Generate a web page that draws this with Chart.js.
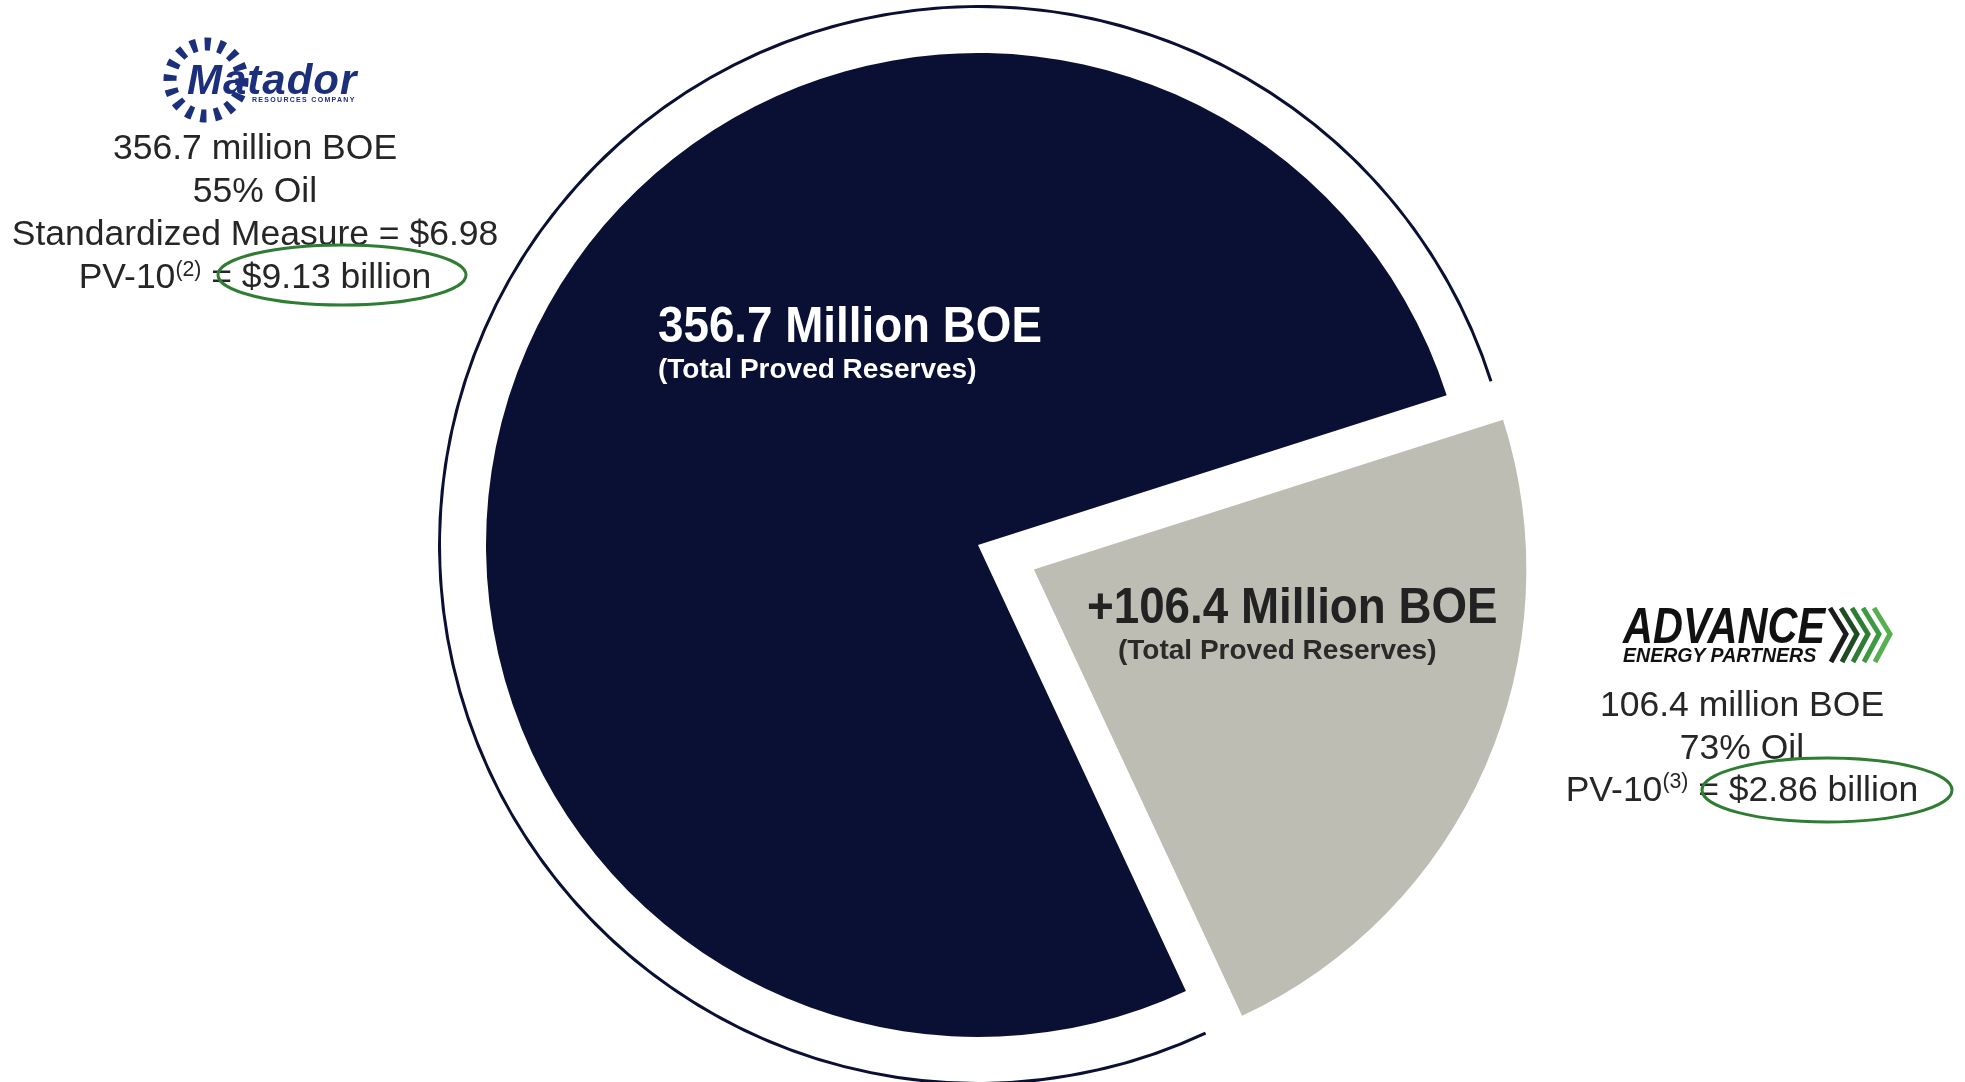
<!DOCTYPE html>
<html>
<head>
<meta charset="utf-8">
<script src="https://cdn.jsdelivr.net/npm/chart.js@4.4.1/dist/chart.umd.min.js"></script>
<style>
  html, body { margin: 0; padding: 0; background: #fff; }
  #wrap {
    position: relative;
    width: 1965px;
    height: 1082px;
    overflow: hidden;
    font-family: "Liberation Sans", Arial, sans-serif;
  }
  #pie { position: absolute; left: 0; top: 0; }
  .lbl { position: absolute; white-space: nowrap; line-height: 1; }
  .sup { font-size: 0.6em; position: relative; top: -0.6em; }
  #marks { position: absolute; left: 0; top: 0; }
</style>
</head>
<body>
<div id="wrap">
  <canvas id="pie" width="1965" height="1082"></canvas>
  <div id="labels"></div>
  <svg id="marks" width="1965" height="1082" viewBox="0 0 1965 1082">
    <circle cx="206" cy="80" r="36" fill="none" stroke="#1c2f7a" stroke-width="13" stroke-dasharray="6 8"></circle>
    <ellipse cx="342" cy="275" rx="124" ry="30" fill="none" stroke="#2e7d32" stroke-width="3"></ellipse>
    <ellipse cx="1827" cy="790" rx="125" ry="32" fill="none" stroke="#2e7d32" stroke-width="3"></ellipse>
    <g fill="none" stroke-width="5">
      <polyline points="1830,608 1846,634 1831,662" stroke="#1b1b1b"></polyline>
      <polyline points="1841,608 1857,634 1842,662" stroke="#1e4d24"></polyline>
      <polyline points="1852,608 1868,634 1853,662" stroke="#2e7d32"></polyline>
      <polyline points="1863,608 1879,634 1864,662" stroke="#3d9a40"></polyline>
      <polyline points="1874,608 1890,634 1875,662" stroke="#56b04f"></polyline>
    </g>
  </svg>
</div>
<script>
// proved reserves, million BOE
const companies = ["Matador Resources", "Advance Energy Partners"];
const provedReserves = [356.7, 106.4];
const oilShare = [55, 73];
const pv10 = [9.13, 2.86];
const standardizedMeasure = 6.98;

const navy = "#0a1033";
const grey = "#bdbdb3";
const none = "rgba(0,0,0,0)";

function addLabel(html, x, baseline, size, opts) {
  opts = opts || {};
  const el = document.createElement("div");
  el.className = "lbl";
  el.innerHTML = html;
  el.style.fontSize = size + "px";
  el.style.top = (baseline - 0.8465 * size) + "px";
  el.style.left = x + "px";
  el.style.color = opts.color || "#262626";
  if (opts.weight) el.style.fontWeight = opts.weight;
  if (opts.italic) el.style.fontStyle = "italic";
  if (opts.spacing) el.style.letterSpacing = opts.spacing + "px";
  let transform = opts.center ? "translateX(-50%)" : "";
  if (opts.scaleX) transform += " scaleX(" + opts.scaleX + ")";
  if (transform) {
    el.style.transform = transform;
    el.style.transformOrigin = opts.center ? "center" : "left";
  }
  document.getElementById("labels").appendChild(el);
}

// left block (Matador)
addLabel("Matador", 187, 95, 42, { color: "#1c2f7a", weight: "bold", italic: true, spacing: 1 });
addLabel("RESOURCES COMPANY", 252, 102, 7, { color: "#1c2f7a", weight: "bold", spacing: 1.3 });
addLabel(provedReserves[0] + " million BOE", 255, 160.5, 35.5, { center: true });
addLabel(oilShare[0] + "% Oil", 255, 203.5, 35.5, { center: true });
addLabel("Standardized Measure = $" + standardizedMeasure.toFixed(2), 255, 246.5, 35.5, { center: true });
addLabel("PV-10<span class=\"sup\">(2)</span> = $" + pv10[0].toFixed(2) + " billion", 255, 289.5, 35.5, { center: true });

// right block (Advance)
addLabel("ADVANCE", 1623, 643, 50, { color: "#111", weight: "bold", italic: true, scaleX: 0.83 });
addLabel("ENERGY PARTNERS", 1623, 662, 21, { color: "#111", weight: "bold", italic: true, scaleX: 0.93 });
addLabel(provedReserves[1] + " million BOE", 1742, 717, 35.5, { center: true });
addLabel(oilShare[1] + "% Oil", 1742, 760, 35.5, { center: true });
addLabel("PV-10<span class=\"sup\">(3)</span> = $" + pv10[1].toFixed(2) + " billion", 1742, 802, 35.5, { center: true });

// labels inside the slices
addLabel(provedReserves[0] + " Million BOE", 658, 342, 50, { color: "#fff", weight: "bold", scaleX: 0.915 });
addLabel("(Total Proved Reserves)", 658, 379, 28, { color: "#fff", weight: "bold" });
addLabel("+" + provedReserves[1] + " Million BOE", 1087, 623, 50, { color: "#222", weight: "bold", scaleX: 0.915 });
addLabel("(Total Proved Reserves)", 1118, 660, 28, { color: "#2a2a2a", weight: "bold" });

const ctx = document.getElementById("pie").getContext("2d");
new Chart(ctx, {
  type: "pie",
  data: {
    labels: companies,
    datasets: [
      // thin outer ring around the Matador slice
      { data: provedReserves, backgroundColor: [navy, none], borderWidth: 0, weight: 3 },
      // white gap between ring and pie
      { data: provedReserves, backgroundColor: [none, none], borderWidth: 0, weight: 45 },
      { data: provedReserves, backgroundColor: [navy, grey], borderWidth: 0, offset: [0, 244], weight: 492 },
    ],
  },
  options: {
    responsive: false,
    animation: false,
    events: [],
    rotation: 155,
    radius: 540,
    layout: { padding: { left: 0, right: 9, top: 8, bottom: 0 } },
    plugins: {
      legend: { display: false },
      tooltip: { enabled: false },
    },
  },
});
</script>
</body>
</html>
